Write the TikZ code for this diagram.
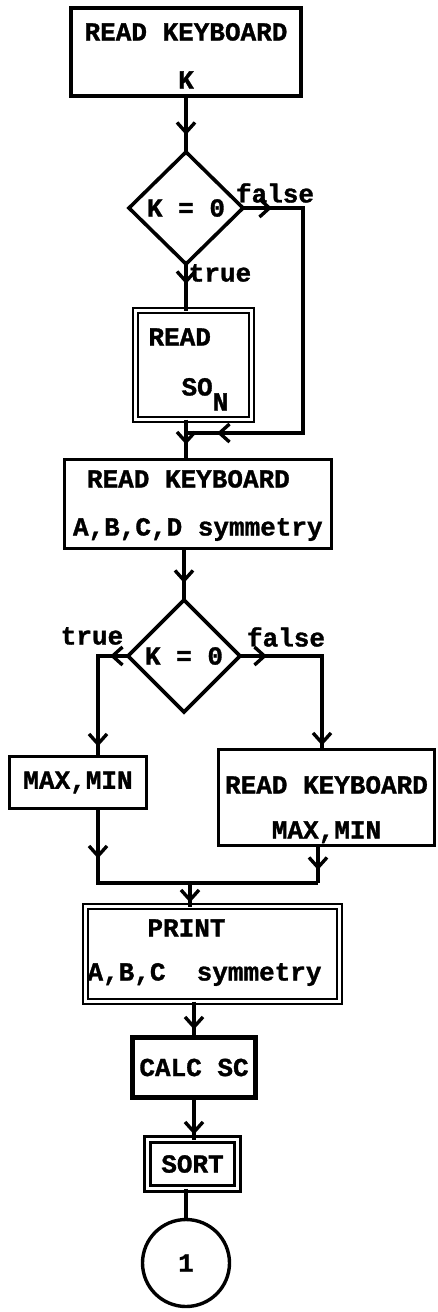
\documentclass[tikz,border=0pt]{standalone}
\usepackage{fontspec}
\newfontfamily\twfont{Liberation Mono}[WordSpace={1,0,0}, BoldFeatures={FakeBold=1.2}]
\newcommand\tsp{\hspace*{0.6em}}
\usetikzlibrary{shapes.geometric,arrows.meta,decorations.markings}
\tikzset{
  mybarb/.tip={Straight Barb[length=10pt, width=18pt, line width=3.4pt]},
  txt/.style={font=\twfont\bfseries\fontsize{26}{30}\selectfont, inner sep=0pt, outer sep=0pt},
  proc/.style={txt, draw, line width=3.6pt, rectangle, align=center},
  dproc/.style={txt, draw, line width=2.4pt, double, double distance=3pt, rectangle},
  sproc/.style={txt, draw, line width=3pt, double, double distance=3.5pt, rectangle},
  heavy/.style={txt, draw, line width=5.5pt, rectangle},
  dec/.style={txt, draw, line width=3.6pt, diamond},
  conn/.style={draw, line width=3.6pt, line join=miter},
  tipat/.style={postaction={decorate, decoration={markings, mark=at position #1 with {\arrow{mybarb}}}}},
}
\begin{document}
\begin{tikzpicture}[x=1pt,y=-1pt]
\fill[white] (0,0) rectangle (438,1312);
\useasboundingbox (0,0) rectangle (438,1312);

% nodes
\node[proc, minimum width=230, minimum height=88, text width=226pt, text height=0pt, text depth=23pt] (b1) at (186,52) {READ\tsp KEYBOARD\\[18pt]K};
\node[dec, minimum width=114, minimum height=112] (d1) at (186,208) {K\tsp=\tsp0};
\node[dproc, minimum width=116, minimum height=109, text width=100pt, align=left, text height=0pt, text depth=39pt] (rd) at (193.5,365) {\hspace*{5pt}READ\\[20pt]\hspace*{38pt}SO\raisebox{-15pt}{N}};
\node[proc, minimum width=267, minimum height=89, text width=250pt, align=left, text height=0pt, text depth=33pt] (b3) at (198,504) {\hspace*{14pt}READ\tsp KEYBOARD\\[18pt]A,B,C,D\tsp symmetry};
\node[dec, minimum width=112, minimum height=112] (d2) at (184,656) {K\tsp=\tsp0};
\node[proc, minimum width=137, minimum height=52] (mm) at (78,782.5) {MAX,MIN};
\node[proc, minimum width=216, minimum height=96, text width=212pt, text height=0pt, text depth=8pt] (rk2) at (326.5,797.5) {READ\tsp KEYBOARD\\[15pt]MAX,MIN};
\node[dproc, minimum width=254, minimum height=95, text width=250pt, align=left, text height=0pt, text depth=35pt] (pr) at (212.5,954) {\hspace*{60pt}PRINT\\[14pt]A,B,C\tsp\tsp symmetry};
\node[heavy, minimum width=123, minimum height=60] (cs) at (194,1067.5) {CALC\tsp SC};
\node[sproc, minimum width=90, minimum height=49] (so) at (192.5,1164) {SORT};
\node[txt, draw, circle, line width=3.4pt, minimum size=87] (c1) at (186,1263) {1};

% labels
\node[txt] (f1) at (275,193) {false};
\node[txt] (t1) at (220,273) {true};
\node[txt] (t2) at (92,636) {true};
\node[txt] (f2) at (286,637) {false};

% helper coordinates
\coordinate (m1) at (186,433);
\coordinate (jl) at (98,883);
\coordinate (jr) at (318,883);
\coordinate (j) at (190,883);

% connectors
\draw[conn, tipat=-17pt] (b1.south) -- (d1.north);
\draw[conn, tipat=29pt, tipat=-31pt] (d1.east) -| (303,433) -- (m1);
\draw[conn, tipat=20pt] (d1.south) -- (d1.south |- rd.north);
\draw[conn, tipat=-15pt] (rd.south -| d1.south) -- (b3.north -| d1.south);
\draw[conn, tipat=-17pt] (b3.south -| d2.north) -- (d2.north);
\draw[conn, tipat=18pt, tipat=-10pt] (d2.west) -| ([xshift=20pt]mm.north);
\draw[conn, tipat=27pt, tipat=-4pt] (d2.east) -| ([xshift=-4.5pt]rk2.north);
\draw[conn, tipat=50pt] ([xshift=20pt]mm.south) -- (jl) -- (jr);
\draw[conn, tipat=-13pt] ([xshift=-8.5pt]rk2.south) -- (jr);
\draw[conn, tipat=-4pt] (j) -- (j |- pr.north);
\draw[conn, tipat=-8pt] (cs.north |- pr.south) -- (cs.north);
\draw[conn, tipat=-5pt] (cs.south) -- (cs.south |- so.north);
\draw[conn] (c1.north |- so.south) -- (c1.north);
\end{tikzpicture}
\end{document}
